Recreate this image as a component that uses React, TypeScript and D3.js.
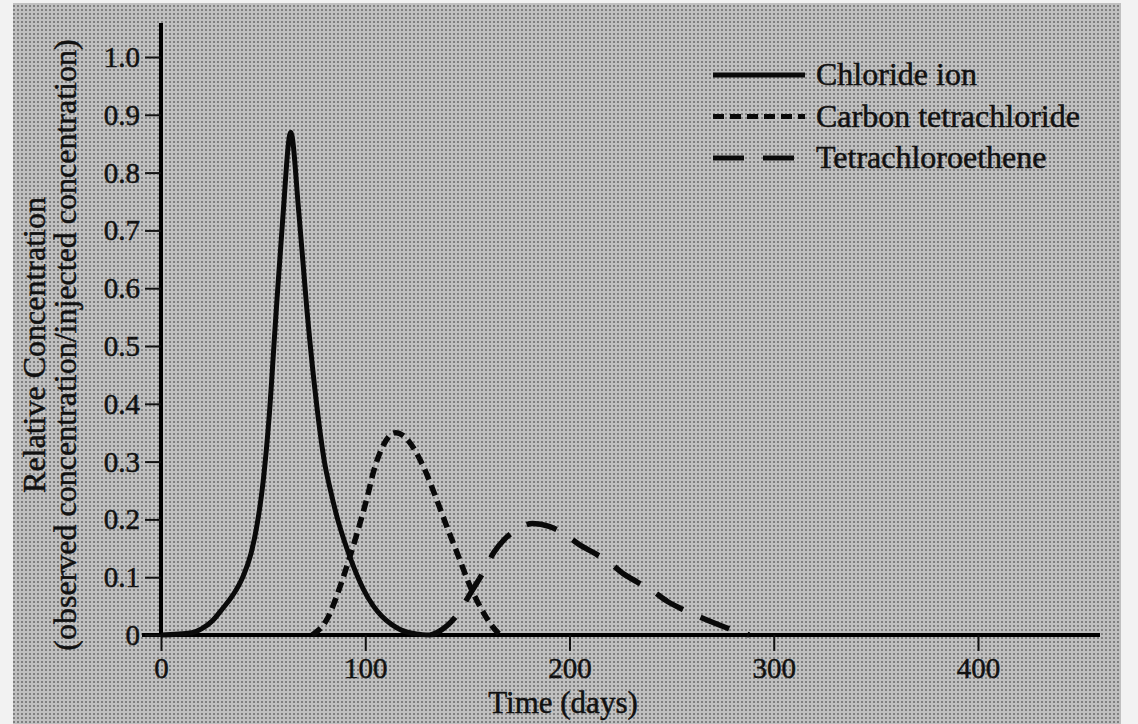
import { useEffect, useRef } from "react";
import * as d3 from "d3";

// axis ticks
const xTicks = [0, 100, 200, 300, 400];
const yTicks = [0, 0.1, 0.2, 0.3, 0.4, 0.5, 0.6, 0.7, 0.8, 0.9, 1.0];
const yTickLabels = ["0", "0.1", "0.2", "0.3", "0.4", "0.5", "0.6", "0.7", "0.8", "0.9", "1.0"];

// Chloride ion
const chlorideDays = [0, 15, 20, 25, 30, 35, 40, 44, 47, 50, 53, 56.2, 59.6, 63.5, 67.5, 71.5, 76.5, 80, 83, 86.5, 90, 93, 99, 104, 108, 113, 118, 125, 132];
const chlorideConc = [0, 0.004, 0.011, 0.024, 0.045, 0.068, 0.1, 0.14, 0.19, 0.265, 0.38, 0.55, 0.72, 0.87, 0.73, 0.56, 0.39, 0.3, 0.25, 0.2, 0.16, 0.13, 0.08, 0.05, 0.033, 0.018, 0.008, 0.002, 0];

// Carbon tetrachloride
const carbonDays = [74, 77, 79, 82, 86.5, 92, 96, 101, 104, 108, 111.5, 115, 118.5, 122, 128.5, 135, 140, 145, 151.5, 158, 162, 166];
const carbonConc = [0, 0.008, 0.015, 0.032, 0.072, 0.13, 0.176, 0.239, 0.282, 0.322, 0.343, 0.35, 0.345, 0.332, 0.291, 0.234, 0.187, 0.142, 0.083, 0.038, 0.016, 0];

// Tetrachloroethene
const tetraDays = [132, 135, 140, 145, 152, 158, 163, 168, 174, 182, 190, 197, 205, 212, 219, 226, 233, 240, 248, 255, 262, 270, 278, 288];
const tetraConc = [0, 0.004, 0.016, 0.035, 0.075, 0.11, 0.143, 0.165, 0.182, 0.193, 0.188, 0.176, 0.156, 0.142, 0.127, 0.107, 0.092, 0.078, 0.058, 0.045, 0.034, 0.022, 0.011, 0];

const seriesNames = ["Chloride ion", "Carbon tetrachloride", "Tetrachloroethene"];
const seriesDash = ["none", "11,6", "31,19"];

export default function App() {
  const svgRef = useRef<SVGSVGElement>(null);

  useEffect(() => {
    const width = 1138;
    const height = 724;
    const font = "'Liberation Serif', 'Times New Roman', serif";
    const ink = "#111";

    const svg = d3.select(svgRef.current);
    svg.selectAll("*").remove();
    svg.attr("width", width).attr("height", height).attr("viewBox", [0, 0, width, height]);

    // halftone-ish paper background
    const defs = svg.append("defs");
    const pat = defs
      .append("pattern")
      .attr("id", "dots")
      .attr("width", 4)
      .attr("height", 4)
      .attr("patternUnits", "userSpaceOnUse");
    pat.append("rect").attr("width", 4).attr("height", 4).attr("fill", "#c0c0c0");
    pat.append("circle").attr("cx", 2).attr("cy", 2).attr("r", 1).attr("fill", "#6a6a6a");

    svg.append("rect").attr("width", width).attr("height", height).attr("fill", "#f2f2f2");
    svg.append("rect").attr("x", 13).attr("y", 3).attr("width", 1108).attr("height", height - 3).attr("fill", "url(#dots)");

    const x = d3.scaleLinear().domain([0, 400]).range([161, 978]);
    const y = d3.scaleLinear().domain([0, 1]).range([635, 57]);

    // axis lines
    svg.append("line").attr("x1", 142).attr("x2", 1100).attr("y1", y(0)).attr("y2", y(0))
      .attr("stroke", "#000").attr("stroke-width", 4);
    svg.append("line").attr("x1", x(0)).attr("x2", x(0)).attr("y1", y(0) + 2).attr("y2", 23)
      .attr("stroke", "#000").attr("stroke-width", 4);

    // y axis ticks
    svg
      .append("g")
      .attr("transform", `translate(${x(0)},0)`)
      .call(
        d3.axisLeft(y)
          .tickValues(yTicks)
          .tickSize(16)
          .tickPadding(5)
          .tickFormat((_, i) => yTickLabels[i])
      )
      .call((g) => g.select(".domain").remove())
      .call((g) => g.selectAll("line").attr("stroke", ink).attr("stroke-width", 2))
      .call((g) =>
        g.selectAll("text")
          .attr("font-family", font)
          .attr("font-size", 29)
          .attr("fill", ink)
          .attr("stroke", ink)
          .attr("stroke-width", 0.5)
          .attr("dy", "0.33em")
      );

    // x axis ticks
    svg
      .append("g")
      .attr("transform", `translate(0,${y(0)})`)
      .call(d3.axisBottom(x).tickValues(xTicks).tickSize(16).tickPadding(6).tickFormat(d3.format("d")))
      .call((g) => g.select(".domain").remove())
      .call((g) => g.selectAll("line").attr("stroke", ink).attr("stroke-width", 2))
      .call((g) =>
        g.selectAll("text")
          .attr("font-family", font)
          .attr("font-size", 29)
          .attr("fill", ink)
          .attr("stroke", ink)
          .attr("stroke-width", 0.5)
          .attr("dy", "0.71em")
      );

    // axis titles
    const title = (sel: any, size: number) =>
      sel.attr("font-family", font).attr("font-size", size).attr("fill", ink)
        .attr("stroke", ink).attr("stroke-width", 0.5);

    svg.append("text")
      .attr("x", 563).attr("y", 713)
      .attr("text-anchor", "middle")
      .call(title, 31)
      .text("Time (days)");

    svg.append("text")
      .attr("transform", "translate(45,345) rotate(-90)")
      .attr("text-anchor", "middle")
      .call(title, 32)
      .text("Relative Concentration");
    svg.append("text")
      .attr("transform", "translate(76,345) rotate(-90)")
      .attr("text-anchor", "middle")
      .call(title, 32)
      .text("(observed concentration/injected concentration)");

    // curves
    const line = d3
      .line<[number, number]>()
      .x((d) => x(d[0]))
      .y((d) => y(d[1]))
      .curve(d3.curveMonotoneX);

    const series = [
      d3.zip(chlorideDays, chlorideConc) as [number, number][],
      d3.zip(carbonDays, carbonConc) as [number, number][],
      d3.zip(tetraDays, tetraConc) as [number, number][],
    ];

    svg.append("g")
      .selectAll("path")
      .data(series)
      .join("path")
      .attr("d", (d) => line(d))
      .attr("fill", "none")
      .attr("stroke", "#0a0a0a")
      .attr("stroke-width", (_, i) => (i === 0 ? 5 : 5.5))
      .attr("stroke-dasharray", (_, i) => seriesDash[i]);

    // legend
    const legend = svg.append("g")
      .selectAll("g")
      .data(seriesNames)
      .join("g")
      .attr("transform", (_, i) => `translate(713,${75 + i * 41.5})`);
    legend.append("line")
      .attr("x1", 0).attr("x2", 92)
      .attr("stroke", "#0a0a0a")
      .attr("stroke-width", 5)
      .attr("stroke-dasharray", (_, i) => seriesDash[i]);
    legend.append("text")
      .attr("x", 103).attr("y", 10)
      .call(title, 32)
      .text((d) => d);
  }, []);

  return <svg ref={svgRef} style={{ position: "absolute", left: 0, top: 0 }}></svg>;
}
